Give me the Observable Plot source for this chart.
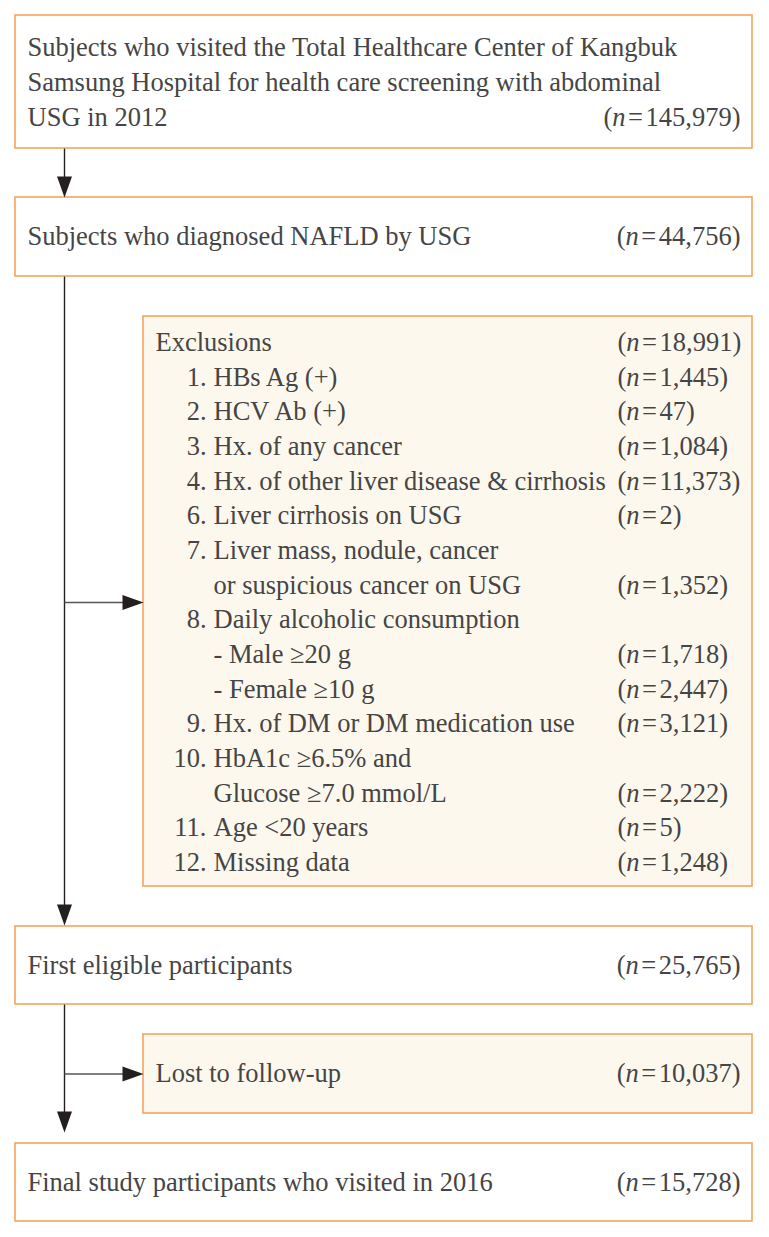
<!DOCTYPE html>
<html>
<head>
<meta charset="utf-8">
<script src="https://cdn.jsdelivr.net/npm/d3@7"></script>
<script src="https://cdn.jsdelivr.net/npm/@observablehq/plot@0.6"></script>
<style>
  html, body { margin: 0; padding: 0; background: #ffffff; }
  #chart svg { display: block; }
</style>
</head>
<body>
<div id="chart"></div>
<script>
// ---------- content ----------
const topLines = [
  "Subjects who visited the Total Healthcare Center of Kangbuk",
  "Samsung Hospital for health care screening with abdominal",
  "USG in 2012"
];
const topCount = "(n=145,979)";
const nafldLabel = "Subjects who diagnosed NAFLD by USG";
const nafldCount = "(n=44,756)";
const exclusionTitle = "Exclusions";
const exclusionTotal = "(n=18,991)";
const exclusionNumbers = ["1.", "2.", "3.", "4.", "6.", "7.", "", "8.", "", "", "9.", "10.", "", "11.", "12."];
const exclusionTexts = [
  "HBs Ag (+)",
  "HCV Ab (+)",
  "Hx. of any cancer",
  "Hx. of other liver disease & cirrhosis",
  "Liver cirrhosis on USG",
  "Liver mass, nodule, cancer",
  "or suspicious cancer on USG",
  "Daily alcoholic consumption",
  "- Male \u226520 g",
  "- Female \u226510 g",
  "Hx. of DM or DM medication use",
  "HbA1c \u22656.5% and",
  "Glucose \u22657.0 mmol/L",
  "Age <20 years",
  "Missing data"
];
const exclusionCounts = ["(n=1,445)", "(n=47)", "(n=1,084)", "(n=11,373)", "(n=2)", "", "(n=1,352)", "", "(n=1,718)", "(n=2,447)", "(n=3,121)", "", "(n=2,222)", "(n=5)", "(n=1,248)"];
const eligibleLabel = "First eligible participants";
const eligibleCount = "(n=25,765)";
const lostLabel = "Lost to follow-up";
const lostCount = "(n=10,037)";
const finalLabel = "Final study participants who visited in 2016";
const finalCount = "(n=15,728)";

// ---------- layout (pixel geometry of the flowchart) ----------
const W = 769, H = 1237;
const L = {
  mainX1: 15, mainX2: 752, sideX1: 143, sideX2: 752,
  trunkX: 64, textX: 27, countRight: 740, sideTextX: 155,
  numRight: 206, itemX: 213, exclCountX: 617,
  box1: [15, 148], box2: [197, 276], excl: [316, 886],
  elig: [926, 1004], lost: [1034, 1113], fin: [1143, 1221],
  topLineY: [47.5, 82.5, 117.5], exclFirstY: 342, exclStep: 34.67,
  headLen: 21, headHalf: 7.5, eqPad: 2.5
};
const FONT = "'Liberation Serif', 'Times New Roman', Times, serif";
const FS = 26.5;
const TEXT = "#454545";
const BORDER = "#f5a45e";
const CREAM = "#fdf8ee";
const INK = "#231f20";

const mid = (a) => (a[0] + a[1]) / 2;

const boxes = [
  {x1: L.mainX1, x2: L.mainX2, y1: L.box1[0], y2: L.box1[1], fill: "white"},
  {x1: L.mainX1, x2: L.mainX2, y1: L.box2[0], y2: L.box2[1], fill: "white"},
  {x1: L.sideX1, x2: L.sideX2, y1: L.excl[0], y2: L.excl[1], fill: CREAM},
  {x1: L.mainX1, x2: L.mainX2, y1: L.elig[0], y2: L.elig[1], fill: "white"},
  {x1: L.sideX1, x2: L.sideX2, y1: L.lost[0], y2: L.lost[1], fill: CREAM},
  {x1: L.mainX1, x2: L.mainX2, y1: L.fin[0], y2: L.fin[1], fill: "white"}
];

// arrows: vertical trunk segments and side branches
const branchY1 = L.exclFirstY + 7.5 * L.exclStep; // middle of exclusion list
const arrows = [
  {x1: L.trunkX, y1: L.box1[1], x2: L.trunkX, y2: L.box2[0], dir: "down", stroke: INK},
  {x1: L.trunkX, y1: L.box2[1], x2: L.trunkX, y2: L.elig[0] - 1, dir: "down", stroke: INK},
  {x1: L.trunkX, y1: L.elig[1], x2: L.trunkX, y2: L.fin[0] - 11, dir: "down", stroke: INK},
  {x1: L.trunkX, y1: branchY1, x2: L.sideX1, y2: branchY1, dir: "right", stroke: "#555"},
  {x1: L.trunkX, y1: mid(L.lost), x2: L.sideX1, y2: mid(L.lost), dir: "right", stroke: "#555"}
];
const shafts = arrows.map(a => a.dir === "down"
  ? {...a, y2: a.y2 - L.headLen + 1}
  : {...a, x2: a.x2 - L.headLen + 1});
const heads = [];
arrows.forEach((a, i) => {
  if (a.dir === "down") {
    heads.push({id: i, x: a.x2 - L.headHalf, y: a.y2 - L.headLen});
    heads.push({id: i, x: a.x2 + L.headHalf, y: a.y2 - L.headLen});
    heads.push({id: i, x: a.x2, y: a.y2});
    heads.push({id: i, x: a.x2 - L.headHalf, y: a.y2 - L.headLen});
  } else {
    heads.push({id: i, x: a.x2 - L.headLen, y: a.y2 - L.headHalf});
    heads.push({id: i, x: a.x2 - L.headLen, y: a.y2 + L.headHalf});
    heads.push({id: i, x: a.x2, y: a.y2});
    heads.push({id: i, x: a.x2 - L.headLen, y: a.y2 - L.headHalf});
  }
});

// left-aligned labels
const labels = [];
topLines.forEach((t, i) => labels.push({x: L.textX, y: L.topLineY[i], text: t}));
labels.push({x: L.textX, y: mid(L.box2), text: nafldLabel});
labels.push({x: L.sideTextX, y: L.exclFirstY, text: exclusionTitle});
exclusionTexts.forEach((t, i) => labels.push({x: L.itemX, y: L.exclFirstY + (i + 1) * L.exclStep, text: t}));
labels.push({x: L.textX, y: mid(L.elig), text: eligibleLabel});
labels.push({x: L.sideTextX, y: mid(L.lost), text: lostLabel});
labels.push({x: L.textX, y: mid(L.fin), text: finalLabel});

const numbers = exclusionNumbers
  .map((t, i) => ({x: L.numRight, y: L.exclFirstY + (i + 1) * L.exclStep, text: t}))
  .filter(d => d.text);

// counts: right-aligned in main boxes, left-aligned column in exclusion box
const countsRight = [
  {x: L.countRight, y: L.topLineY[2], text: topCount},
  {x: L.countRight, y: mid(L.box2), text: nafldCount},
  {x: L.countRight, y: mid(L.elig), text: eligibleCount},
  {x: L.countRight, y: mid(L.lost), text: lostCount},
  {x: L.countRight, y: mid(L.fin), text: finalCount}
];
const countsLeft = [{x: L.exclCountX, y: L.exclFirstY, text: exclusionTotal}]
  .concat(exclusionCounts.map((t, i) => ({x: L.exclCountX, y: L.exclFirstY + (i + 1) * L.exclStep, text: t})))
  .filter(d => d.text);

const textOpts = {x: "x", y: "y", text: "text", fill: TEXT, fontSize: FS, fontFamily: FONT, lineAnchor: "middle"};

const chart = Plot.plot({
  width: W, height: H, margin: 0,
  style: {background: "white", fontFamily: FONT},
  x: {domain: [0, W], range: [0, W], axis: null},
  y: {domain: [0, H], range: [0, H], axis: null},
  marks: [
    Plot.rect(boxes, {x1: "x1", x2: "x2", y1: "y1", y2: "y2", fill: "fill", stroke: BORDER, strokeWidth: 1.6}),
    Plot.link(shafts, {x1: "x1", y1: "y1", x2: "x2", y2: "y2", stroke: "stroke", strokeWidth: 1.4}),
    Plot.line(heads, {x: "x", y: "y", z: "id", fill: INK, stroke: "none"}),
    Plot.text(labels, {...textOpts, textAnchor: "start"}),
    Plot.text(numbers, {...textOpts, textAnchor: "end"}),
    Plot.text(countsRight, {...textOpts, textAnchor: "end", className: "count"}),
    Plot.text(countsLeft, {...textOpts, textAnchor: "start", className: "count"})
  ]
});
document.getElementById("chart").appendChild(chart);

// italicise the "n" in each count and open up the "=" a little
chart.querySelectorAll(".count text").forEach(t => {
  const s = t.textContent;
  const m = s.match(/^\((n)=(.*)$/);
  if (!m) return;
  t.textContent = "";
  const ns = "http://www.w3.org/2000/svg";
  const a = document.createElementNS(ns, "tspan"); a.textContent = "(";
  const b = document.createElementNS(ns, "tspan"); b.textContent = "n"; b.setAttribute("font-style", "italic");
  const c = document.createElementNS(ns, "tspan"); c.textContent = "="; c.setAttribute("dx", L.eqPad);
  const d = document.createElementNS(ns, "tspan"); d.textContent = m[2]; d.setAttribute("dx", L.eqPad);
  t.append(a, b, c, d);
});
</script>
</body>
</html>
